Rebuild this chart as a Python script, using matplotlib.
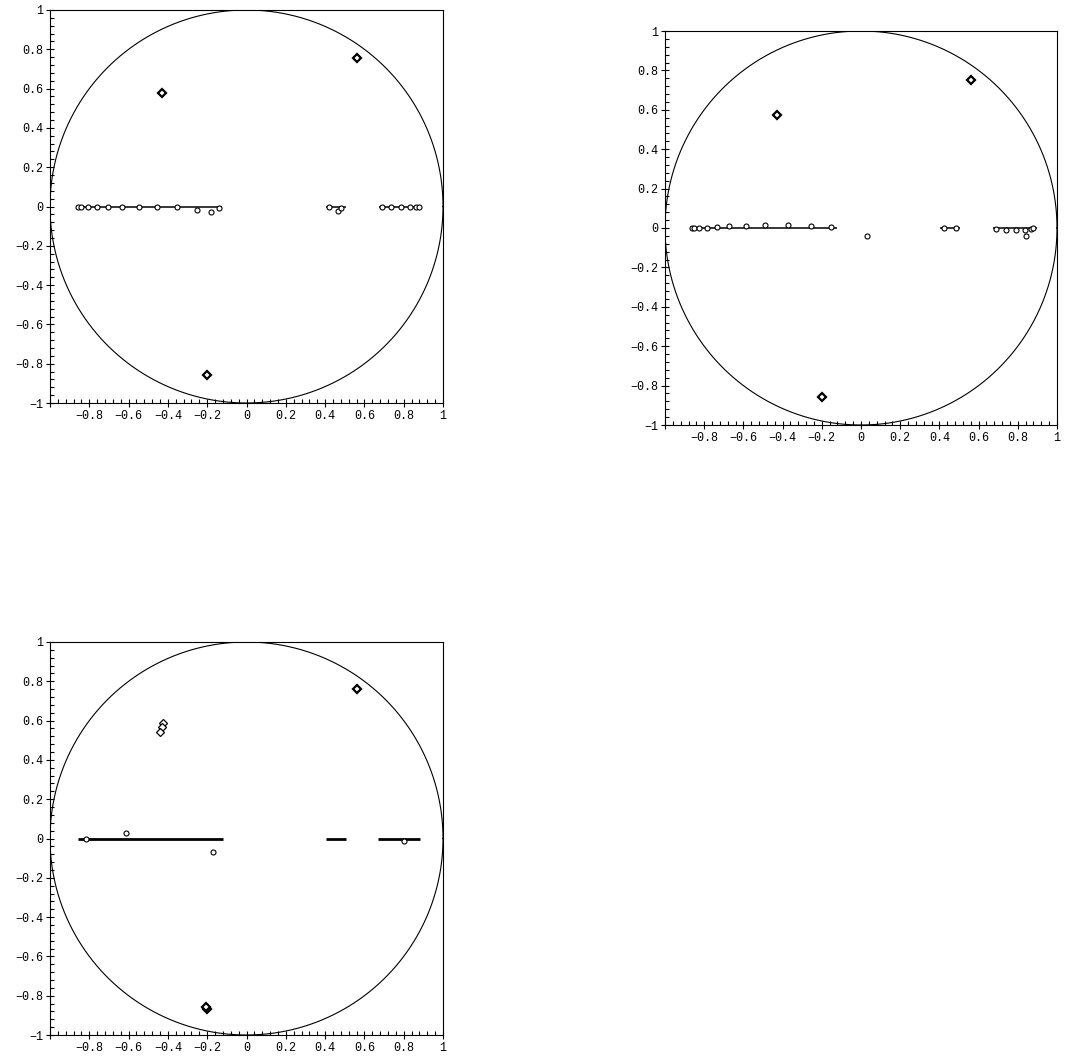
import numpy as np
import matplotlib
matplotlib.use("Agg")
import matplotlib.pyplot as plt
from matplotlib.ticker import MultipleLocator, FixedLocator

# Correlation-circle data for three projections
# Variable projections (diamonds)
p1_var_x = [-0.43, 0.562, -0.20]
p1_var_y = [0.578, 0.756, -0.857]
p2_var_x = [-0.43, 0.56, -0.20]
p2_var_y = [0.574, 0.75, -0.86]
p3_var_x = [0.562, -0.427, -0.432, -0.44, -0.20, -0.205]
p3_var_y = [0.76, 0.589, 0.569, 0.543, -0.866, -0.860]

# Individual projections (small circles)
p1_ind_x = [-0.856, -0.842, -0.808, -0.762, -0.705, -0.634, -0.549, -0.454,
            -0.352, -0.250, -0.179, -0.140,
            0.420, 0.467, 0.479,
            0.688, 0.735, 0.785, 0.832, 0.861, 0.878]
p1_ind_y = [0, 0, 0, 0, 0, 0, 0, 0,
            -0.005, -0.016, -0.03, -0.007,
            0, -0.023, -0.009,
            0, 0, 0, 0, 0, 0]
p2_ind_x = [-0.861, -0.851, -0.825, -0.786, -0.735, -0.672, -0.588, -0.490,
            -0.374, -0.254, -0.155, 0.031,
            0.425, 0.483,
            0.690, 0.741, 0.792, 0.837, 0.842, 0.866, 0.879]
p2_ind_y = [0, 0, 0, 0.002, 0.005, 0.01, 0.012, 0.015,
            0.015, 0.012, 0.004, -0.04,
            0, 0,
            -0.007, -0.008, -0.01, -0.01, -0.04, -0.005, 0]
p3_ind_x = [-0.818, -0.613, -0.169, 0.803]
p3_ind_y = [0.0, 0.026, -0.07, -0.011]

# Group segments along the horizontal axis (x start, x end)
p1_segments = [(-0.862, -0.125), (0.405, 0.506), (0.674, 0.888)]
p2_segments = [(-0.869, -0.124), (0.403, 0.505), (0.675, 0.896)]
p3_segments = [(-0.859, -0.121), (0.405, 0.506), (0.671, 0.883)]

major_ticks = [-1, -0.8, -0.6, -0.4, -0.2, 0, 0.2, 0.4, 0.6, 0.8, 1]
x_labels = ["", "\u22120.8", "\u22120.6", "\u22120.4", "\u22120.2", "0",
            "0.2", "0.4", "0.6", "0.8", "1"]
y_labels = ["\u22121", "\u22120.8", "\u22120.6", "\u22120.4", "\u22120.2", "0",
            "0.2", "0.4", "0.6", "0.8", "1"]

W, H = 1069, 1057
fig = plt.figure(figsize=(W / 100, H / 100), dpi=100)
mono = ["Liberation Mono", "DejaVu Sans Mono"]


def panel(rect, var_x, var_y, ind_x, ind_y, segments, seg_lw, var_style):
    ax = fig.add_axes(rect)
    ax.set_xlim(-1, 1)
    ax.set_ylim(-1, 1)
    t = np.linspace(0, 2 * np.pi, 400)
    ax.plot(np.cos(t), np.sin(t), color="black", lw=0.8)
    for a, b in segments:
        ax.plot([a, b], [0, 0], color="black", lw=seg_lw, solid_capstyle="butt")
    ax.plot(ind_x, ind_y, linestyle="none", marker="o", ms=3.6,
            mfc="white", mec="black", mew=0.8)
    for i, (x, y) in enumerate(zip(var_x, var_y)):
        ax.plot([x], [y], linestyle="none", marker="D", ms=var_style[i][0],
                mfc="white", mec="black", mew=var_style[i][1])
    ax.xaxis.set_major_locator(FixedLocator(major_ticks))
    ax.yaxis.set_major_locator(FixedLocator(major_ticks))
    ax.set_xticklabels(x_labels, fontfamily=mono, fontsize=8.5)
    ax.set_yticklabels(y_labels, fontfamily=mono, fontsize=8.5)
    ax.xaxis.set_minor_locator(MultipleLocator(0.04))
    ax.yaxis.set_minor_locator(MultipleLocator(0.04))
    ax.tick_params(which="major", direction="inout", length=6, width=0.8,
                   pad=2, top=False, right=False)
    ax.tick_params(which="minor", direction="in", length=3, width=0.8,
                   top=False, right=False)
    for s in ax.spines.values():
        s.set_linewidth(0.8)
    return ax


bold = (4.5, 1.6)
thin = (4.0, 0.9)

panel([50 / W, 1 - 403 / H, 393 / W, 393 / H],
      p1_var_x, p1_var_y, p1_ind_x, p1_ind_y, p1_segments, 1.1, [bold] * 3)
panel([665 / W, 1 - 425 / H, 392 / W, 394 / H],
      p2_var_x, p2_var_y, p2_ind_x, p2_ind_y, p2_segments, 1.1, [bold] * 3)
panel([50 / W, 1 - 1035 / H, 393 / W, 393 / H],
      p3_var_x, p3_var_y, p3_ind_x, p3_ind_y, p3_segments, 2.0,
      [bold, thin, thin, thin, bold, bold])

fig.savefig("out.png", dpi=100)
